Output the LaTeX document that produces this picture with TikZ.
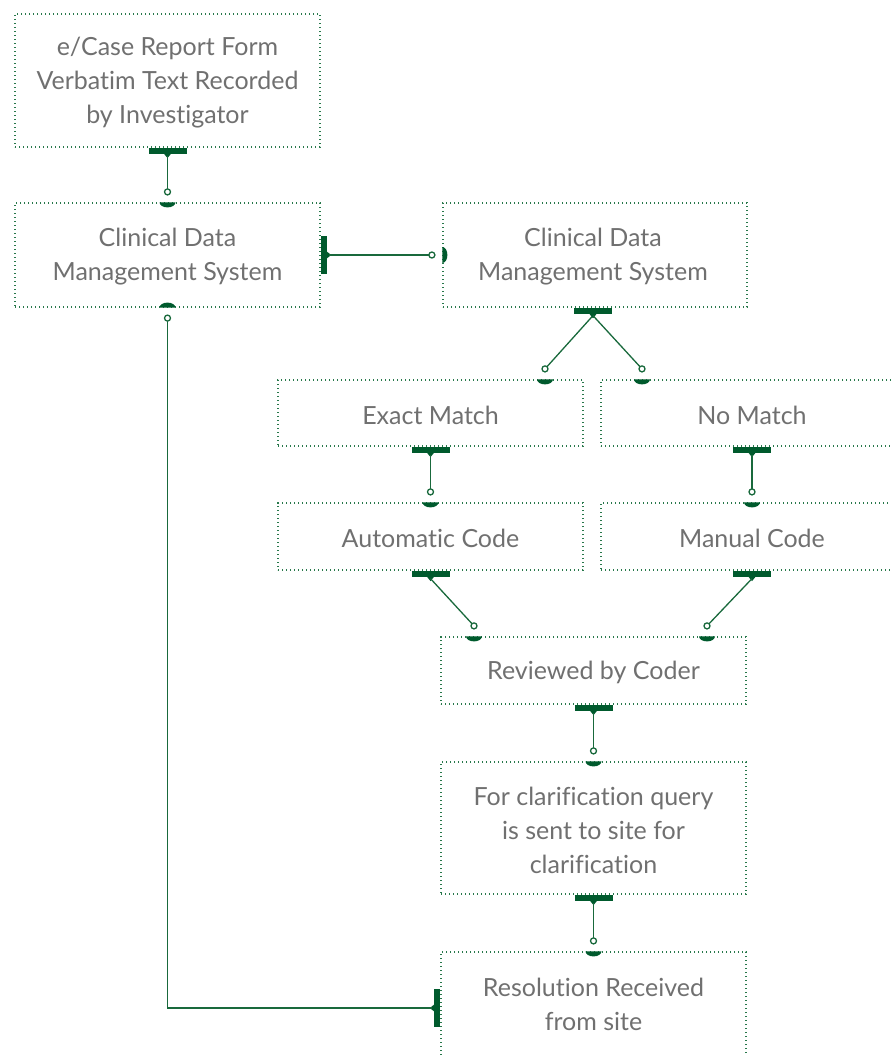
\documentclass[tikz,border=0pt]{standalone}
\usepackage{fontspec}
\setmainfont{Lato}[Ligatures={NoCommon,NoRare}]
\definecolor{bargreen}{RGB}{0,90,45}
\definecolor{linegreen}{RGB}{25,105,60}
\definecolor{boxgreen}{RGB}{40,120,75}
\definecolor{txtgray}{RGB}{112,112,112}
\newcommand\myconn[5]{%
  \begin{scope}[shift={(#1)},rotate=#2]
    \fill[bargreen] (0pt,-19pt) rectangle (6pt,19pt);
    \fill[bargreen] (5pt,-4.5pt) -- (10.5pt,0pt) -- (5pt,4.5pt) -- cycle;
    \coordinate (cs) at (8pt,0pt);
  \end{scope}
  \begin{scope}[shift={(#3)},rotate=#4]
    \fill[bargreen] (0pt,8pt) arc[start angle=90,end angle=270,x radius=5pt,y radius=8pt] -- cycle;
    \coordinate (ct) at (10.5pt,0pt);
  \end{scope}
  \draw[cline] (ct) #5 (cs);
  \draw[cline,fill=white] (ct) circle[radius=3pt];
}
\begin{document}
\begin{tikzpicture}[x=1pt,y=-1pt,
  box/.style={draw=boxgreen,line width=1.2pt,dash pattern=on 1.2pt off 2.8pt,
    inner sep=0pt,rectangle},
  txt/.style={text=txtgray,align=center,font=\fontsize{25}{34}\selectfont,inner sep=0pt},
  cline/.style={draw=linegreen,line width=1.3pt}]
\useasboundingbox (0,0) rectangle (891,1055);
\node[box,minimum width=305pt,minimum height=133pt] (A) at (167.5,80.5) {};
\node[box,minimum width=305pt,minimum height=104pt] (B) at (167.5,255) {};
\node[box,minimum width=304pt,minimum height=104pt] (C) at (595,255) {};
\node[box,minimum width=305pt,minimum height=66pt] (EM) at (430.5,413) {};
\node[box,minimum width=302pt,minimum height=66pt] (NM) at (752,413) {};
\node[box,minimum width=305pt,minimum height=67pt] (AC) at (430.5,536.5) {};
\node[box,minimum width=302pt,minimum height=67pt] (MC) at (752,536.5) {};
\node[box,minimum width=305pt,minimum height=67pt] (RC) at (593.5,670.5) {};
\node[box,minimum width=305pt,minimum height=132pt] (CQ) at (593.5,828) {};
\node[box,minimum width=305pt,minimum height=112pt] (RR) at (593.5,1008) {};
\node[txt] (At) at ([yshift=-2pt]A.center) {e/Case Report Form\\Verbatim Text Recorded\\by Investigator};
\node[txt] (Bt) at ([yshift=-2pt]B.center) {Clinical Data\\Management System};
\node[txt] (Ct) at ([xshift=-2pt,yshift=-2pt]C.center) {Clinical Data\\Management System};
\node[txt] (EMt) at ([yshift=-2pt]EM.center) {Exact Match};
\node[txt] (NMt) at ([yshift=-2pt]NM.center) {No Match};
\node[txt] (ACt) at ([yshift=-2pt]AC.center) {Automatic Code};
\node[txt] (MCt) at ([yshift=-2pt]MC.center) {Manual Code};
\node[txt] (RCt) at ([yshift=-2pt]RC.center) {Reviewed by Coder};
\node[txt] (CQt) at ([yshift=-2pt]CQ.center) {For clarification query\\is sent to site for\\clarification};
\node[txt] (RRt) at ([yshift=4pt]RR.center) {Resolution Received\\from site};
\coordinate (emin) at ([xshift=114.5pt]EM.north);
\coordinate (nmin) at ([xshift=-110pt]NM.north);
\coordinate (rcl) at ([xshift=-119.5pt]RC.north);
\coordinate (rcr) at ([xshift=113.5pt]RC.north);
\coordinate (csrc) at ([xshift=-2pt]C.south);
\myconn{A.south}{-90}{B.north}{90}{--}
\myconn{B.east}{0}{C.west}{180}{--}
\myconn{csrc}{-90}{emin}{90}{--}
\myconn{csrc}{-90}{nmin}{90}{--}
\myconn{EM.south}{-90}{AC.north}{90}{--}
\myconn{NM.south}{-90}{MC.north}{90}{--}
\myconn{AC.south}{-90}{rcl}{90}{--}
\myconn{MC.south}{-90}{rcr}{90}{--}
\myconn{RC.south}{-90}{CQ.north}{90}{--}
\myconn{CQ.south}{-90}{RR.north}{90}{--}
\myconn{RR.west}{180}{B.south}{-90}{|-}
\end{tikzpicture}
\end{document}
